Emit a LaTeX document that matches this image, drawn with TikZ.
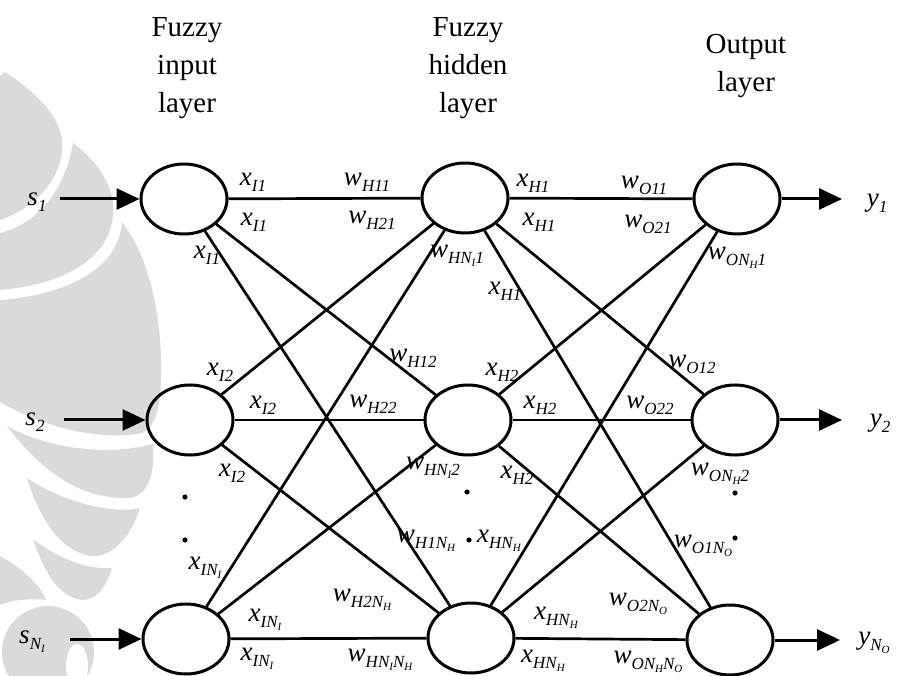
\documentclass[tikz,border=0pt]{standalone}
\usepackage{fontspec}
\setmainfont{Liberation Serif}
\usetikzlibrary{arrows.meta,shapes.geometric}
\definecolor{wmgray}{RGB}{218,218,218}
% title text and italic symbols with subscripts
\newcommand\ttlfont{\fontsize{29}{38}\selectfont}
\newcommand\lv[2]{{\fontsize{27}{27}\selectfont\textit{#1}}\raisebox{-6pt}{\fontsize{17}{17}\selectfont\textit{#2}}}
\newcommand\nn[1]{\textit{N}\raisebox{-3pt}{\fontsize{11}{11}\selectfont\textit{#1}}}
\newcommand\sig[2]{{\fontsize{27}{27}\selectfont\textit{#1}}\raisebox{-6pt}{\fontsize{17}{17}\selectfont\textit{#2}}}
\begin{document}
\begin{tikzpicture}[x=1pt,y=-1pt,
  neuron/.style={ellipse,draw,line width=3pt,minimum width=86pt,minimum height=70pt,inner sep=0pt},
  link/.style={line width=2.7pt},
  sigarrow/.style={line width=3pt,-{Triangle[length=23pt,width=21pt]}},
  lab/.style={inner sep=0pt},
  ttl/.style={align=center,font=\ttlfont,inner sep=0pt},
  wm/.style={fill=wmgray,draw=none}]
\useasboundingbox (0,0) rectangle (911,676);

% background emblem in light grey
\fill[wm] (0,76) -- (5,72) .. controls (40,95) and (66,122) .. (62,152)
  .. controls (58,185) and (30,210) .. (0,220) -- cycle;
\fill[wm] (73,143) .. controls (100,163) and (116,190) .. (113,215)
  .. controls (110,255) and (70,284) .. (0,290) -- (0,233)
  .. controls (35,224) and (64,195) .. (73,143) -- cycle;
\fill[wm] (122,222) .. controls (150,258) and (163,320) .. (161,380)
  .. controls (160,415) and (152,432) .. (138,434)
  .. controls (90,440) and (40,425) .. (0,402) -- (0,300)
  .. controls (55,296) and (118,275) .. (122,222) -- cycle;
\fill[wm] (7,426) .. controls (40,445) and (100,458) .. (153,444)
  .. controls (155,470) and (150,495) .. (130,498)
  .. controls (80,500) and (40,470) .. (7,426) -- cycle;
\fill[wm] (27,478) .. controls (60,500) and (110,515) .. (140,508)
  .. controls (130,540) and (110,558) .. (90,556)
  .. controls (60,550) and (40,520) .. (27,478) -- cycle;
\fill[wm] (33,539) .. controls (60,560) and (90,570) .. (112,568)
  .. controls (105,590) and (95,600) .. (83,600)
  .. controls (60,598) and (45,575) .. (33,539) -- cycle;
\fill[wm] (0,556) .. controls (25,570) and (40,585) .. (46,600)
  .. controls (30,598) and (12,600) .. (0,605) -- cycle;
\fill[wm] (48,652) circle[radius=46];
\fill[white] (77,666) ellipse[x radius=11,y radius=22];

% layer titles
\node[ttl] (tin) at (187,68) {Fuzzy\\input\\layer};
\node[ttl] (thid) at (468,68) {Fuzzy\\hidden\\layer};
\node[ttl] (tout) at (746,66) {Output\\layer};

% neurons
\node[neuron] (in1) at (184,199) {};
\node[neuron] (in2) at (190,420) {};
\node[neuron] (in3) at (186,639) {};
\node[neuron] (h1) at (465,198) {};
\node[neuron] (h2) at (468,420) {};
\node[neuron] (h3) at (471,638) {};
\node[neuron] (o1) at (737,199) {};
\node[neuron] (o2) at (735,420) {};
\node[neuron] (o3) at (730,640) {};

% full connections between layers
\foreach \a in {1,2,3}{
  \foreach \b in {1,2,3}{
    \draw[link] (in\a) -- (h\b);
    \draw[link] (h\a) -- (o\b);
  }
}

% inputs and outputs
\coordinate (s1c) at (60,199);
\coordinate (s2c) at (64,420);
\coordinate (s3c) at (70,639);
\draw[sigarrow] (s1c) -- (in1);
\draw[sigarrow] (s2c) -- (in2);
\draw[sigarrow] (s3c) -- (in3);
\node[lab] (s1) at (37,202) {\sig{s}{1}};
\node[lab] (s2) at (35,422) {\sig{s}{2}};
\node[lab] (s3) at (32,642) {\sig{s}{\nn{I}}};

\coordinate (y1c) at (842,199);
\coordinate (y2c) at (842,420);
\coordinate (y3c) at (840,640);
\draw[sigarrow] (o1) -- (y1c);
\draw[sigarrow] (o2) -- (y2c);
\draw[sigarrow] (o3) -- (y3c);
\node[lab] (y1) at (877,203) {\sig{y}{1}};
\node[lab] (y2) at (880,423) {\sig{y}{2}};
\node[lab] (y3) at (874,643) {\sig{y}{\nn{O}}};

% weights and signals, first row
\node[lab] (l1) at (253,182) {\lv{x}{I1}};
\node[lab] (l2) at (254,222) {\lv{x}{I1}};
\node[lab] (l3) at (207,255) {\lv{x}{I1}};
\node[lab] (l4) at (367,182) {\lv{w}{H11}};
\node[lab] (l5) at (372,220) {\lv{w}{H21}};
\node[lab] (l6) at (457,256) {\lv{w}{H\nn{I}1}};
\node[lab] (l7) at (533,183) {\lv{x}{H1}};
\node[lab] (l8) at (539,222) {\lv{x}{H1}};
\node[lab] (l9) at (505,291) {\lv{x}{H1}};
\node[lab] (l10) at (644,185) {\lv{w}{O11}};
\node[lab] (l11) at (648,224) {\lv{w}{O21}};
\node[lab] (l12) at (737,258) {\lv{w}{O\nn{H}1}};

% second row
\node[lab] (l13) at (220,372) {\lv{x}{I2}};
\node[lab] (l14) at (263,405) {\lv{x}{I2}};
\node[lab] (l15) at (232,473) {\lv{x}{I2}};
\node[lab] (l16) at (413,358) {\lv{w}{H12}};
\node[lab] (l17) at (373,404) {\lv{w}{H22}};
\node[lab] (l18) at (433,468) {\lv{w}{H\nn{I}2}};
\node[lab] (l19) at (502,372) {\lv{x}{H2}};
\node[lab] (l20) at (540,405) {\lv{x}{H2}};
\node[lab] (l21) at (517,475) {\lv{x}{H2}};
\node[lab] (l22) at (692,364) {\lv{w}{O12}};
\node[lab] (l23) at (650,405) {\lv{w}{O22}};
\node[lab] (l24) at (720,474) {\lv{w}{O\nn{H}2}};

% last row
\node[lab] (l25) at (205,568) {\lv{x}{I\nn{I}}};
\node[lab] (l26) at (265,620) {\lv{x}{I\nn{I}}};
\node[lab] (l27) at (257,659) {\lv{x}{I\nn{I}}};
\node[lab] (l28) at (426,541) {\lv{w}{H1\nn{H}}};
\node[lab] (l29) at (362,600) {\lv{w}{H2\nn{H}}};
\node[lab] (l30) at (380,660) {\lv{w}{H\nn{I}\nn{H}}};
\node[lab] (l31) at (499,541) {\lv{x}{H\nn{H}}};
\node[lab] (l32) at (556,618) {\lv{x}{H\nn{H}}};
\node[lab] (l33) at (543,661) {\lv{x}{H\nn{H}}};
\node[lab] (l34) at (703,546) {\lv{w}{O1\nn{O}}};
\node[lab] (l35) at (638,604) {\lv{w}{O2\nn{O}}};
\node[lab] (l36) at (648,662) {\lv{w}{O\nn{H}\nn{O}}};

% vertical ellipsis dots in each layer
\foreach \px/\py in {185/497,185/540,467/492,469/540,735/493,735/538}
  \fill (\px,\py) circle[radius=2.6];
\end{tikzpicture}
\end{document}
